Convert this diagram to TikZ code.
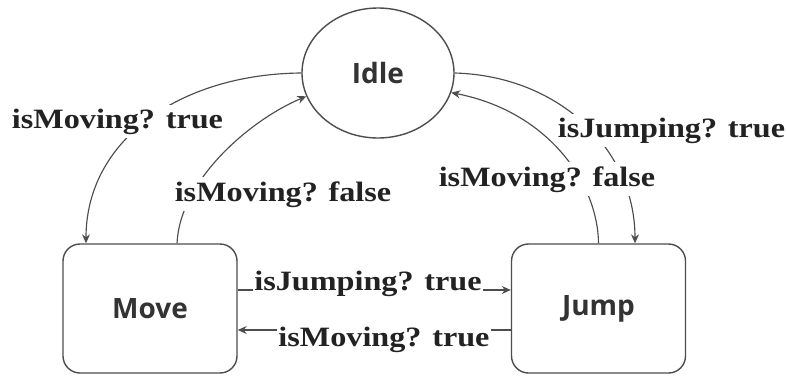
\documentclass[tikz,border=0pt]{standalone}
\usepackage{fontspec}
\newfontfamily\lblfont[FakeStretch=1.15]{Liberation Serif}
\newfontfamily\statefont{Open Sans}
\usetikzlibrary{arrows.meta,shapes.geometric}
\definecolor{edgegray}{HTML}{4D4D4D}
\definecolor{labelink}{HTML}{222222}
\definecolor{stateink}{HTML}{333333}
\begin{document}
\begin{tikzpicture}[x=1pt,y=-1pt,
  state/.style={draw=edgegray, line width=1.4pt, fill=white, text=stateink,
    font=\statefont\bfseries\fontsize{28}{32}\selectfont},
  box/.style={state, rectangle, rounded corners=17pt,
    minimum width=174pt, minimum height=129pt},
  oval/.style={state, ellipse, inner sep=0pt,
    minimum width=152pt, minimum height=130pt},
  link/.style={draw=edgegray, line width=1.15pt, -{Stealth[length=9pt,width=8pt]}},
  lbl/.style={fill=white, text=labelink, inner xsep=1pt, inner ysep=4pt, anchor=base,
    font=\lblfont\bfseries\fontsize{28}{32}\selectfont}]
\useasboundingbox (0,0) rectangle (787,375);

% states
\node[oval] (idle) at (378,73) {\raisebox{-3pt}{Idle}};
\node[box] (move) at (150,308.5) {Move};
\node[box] (jump) at (598.5,308.5) {Jump};

% transitions
\draw[link] (idle.west) .. controls (180,74) and (86,140) .. ([xshift=-64pt]move.north);
\draw[link] ([xshift=27pt]move.north) .. controls (180,180) and (250,120) .. (idle.198);
\draw[link] (idle.east) .. controls (560,76) and (635,150) .. ([xshift=36.5pt]jump.north);
\draw[link] (jump.north) .. controls (598,185) and (550,112) .. (idle.345);
\draw[link] ([yshift=18.5pt]move.east) -- ([yshift=18.5pt]jump.west);
\draw[link] ([yshift=-21.5pt]jump.west) -- ([yshift=-21.5pt]move.east);

% transition labels
\node[lbl] (l1) at (117.5,128) {isMoving? true};
\node[lbl] (l2) at (283,201) {isMoving? false};
\node[lbl] (l3) at (671.5,137) {isJumping? true};
\node[lbl] (l4) at (547,186) {isMoving? false};
\node[lbl] (l5) at (368,290) {isJumping? true};
\node[lbl] (l6) at (384,346) {isMoving? true};
\end{tikzpicture}
\end{document}
